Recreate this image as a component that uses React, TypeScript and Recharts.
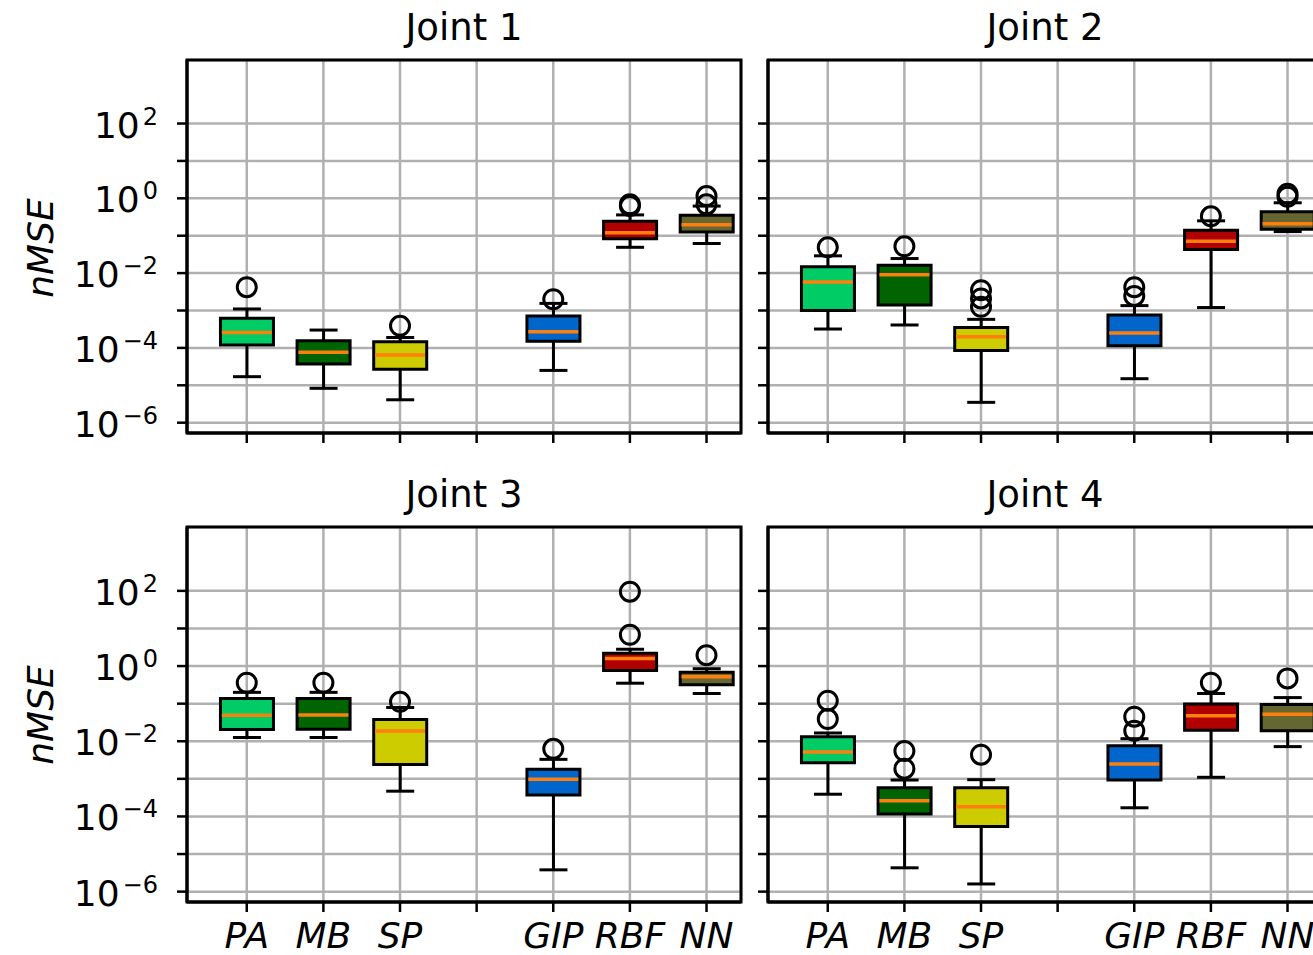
import { Bar, CartesianGrid, Cell, ComposedChart, ReferenceArea, Scatter, XAxis, YAxis } from "recharts";

const methods = ["PA", "MB", "SP", "", "GIP", "RBF", "NN"];
const positions = [1, 2, 3, 5, 6, 7];
const boxColors = ["#00cc66", "#006400", "#cccc00", "#0066cc", "#b00000", "#666633"];
const xTicks = [1, 2, 3, 4, 5, 6, 7];
const yTicks = [1e-6, 1e-5, 1e-4, 1e-3, 1e-2, 1e-1, 1, 10, 100];

// per method: [lower whisker, q1, median, q3, upper whisker]
const joint1Stats = [
  [1.7e-5, 1.2e-4, 2.6e-4, 6.2e-4, 1.1e-3],
  [8.3e-6, 3.7e-5, 7.6e-5, 1.55e-4, 3.0e-4],
  [4.1e-6, 2.7e-5, 6.5e-5, 1.45e-4, 1.9e-4],
  [2.5e-5, 1.5e-4, 2.7e-4, 7.1e-4, 1.55e-3],
  [0.049, 0.083, 0.12, 0.245, 0.36],
  [0.062, 0.126, 0.195, 0.35, 0.62],
];
const joint1Fliers = [[4.2e-3], [], [3.9e-4], [2.0e-3], [0.69, 0.62], [1.15, 0.69]];

const joint2Stats = [
  [3.2e-4, 1.0e-3, 5.8e-3, 0.0148, 0.029],
  [4.1e-4, 1.4e-3, 9.1e-3, 0.0162, 0.0245],
  [3.5e-6, 8.5e-5, 2.0e-4, 3.5e-4, 5.8e-4],
  [1.5e-5, 1.15e-4, 2.5e-4, 7.6e-4, 1.35e-3],
  [1.2e-3, 0.043, 0.071, 0.141, 0.25],
  [0.129, 0.148, 0.21, 0.44, 0.76],
];
const joint2Fliers = [[0.049], [0.052], [3.5e-3, 2.1e-3, 1.26e-3], [4.2e-3, 2.45e-3], [0.33], [1.32, 1.1]];

const joint3Stats = [
  [0.0126, 0.0204, 0.049, 0.138, 0.2],
  [0.0126, 0.021, 0.05, 0.138, 0.2],
  [4.7e-4, 2.4e-3, 0.0186, 0.038, 0.079],
  [3.8e-6, 3.7e-4, 9.8e-4, 1.8e-3, 3.3e-3],
  [0.35, 0.76, 1.58, 2.2, 2.8],
  [0.186, 0.32, 0.52, 0.68, 0.85],
];
const joint3Fliers = [[0.36], [0.36], [0.112], [6.3e-3], [6.8, 95], [1.95]];

const joint4Stats = [
  [3.9e-4, 2.7e-3, 5.2e-3, 0.0132, 0.0166],
  [4.3e-6, 1.17e-4, 2.6e-4, 5.8e-4, 9.3e-4],
  [1.6e-6, 5.4e-5, 1.8e-4, 5.8e-4, 9.5e-4],
  [1.7e-4, 9.3e-4, 2.5e-3, 7.6e-3, 0.0117],
  [1.1e-3, 0.0195, 0.048, 0.098, 0.186],
  [7.2e-3, 0.019, 0.052, 0.095, 0.145],
];
const joint4Fliers = [[0.12, 0.039], [5.5e-3, 1.86e-3], [4.4e-3], [0.045, 0.019], [0.36], [0.47]];

const FONT = "DejaVu Sans";
const Y_DOMAIN = [5.3e-7, 5e3];
const X_DOMAIN = [0.22, 7.45];
const PLOT_W = 554;
const BOX_W = 53;
const LW = 3;

function YTick(props: any) {
  const { x, y, payload } = props;
  const e = Math.round(Math.log10(payload.value));
  if (e % 2 !== 0) return <g />;
  const exp = e < 0 ? "\u2212" + Math.abs(e) : String(e);
  return (
    <text x={x} y={y} textAnchor="end" fontFamily={FONT} fontSize={36} fill="#000">
      <tspan dy={14}>10</tspan>
      <tspan dy={-13} dx={3} fontSize={24}>{exp}</tspan>
    </text>
  );
}

function XTick(props: any) {
  const { x, y, payload } = props;
  return (
    <text x={x} y={y} dy={34} textAnchor="middle" fontFamily={FONT} fontStyle="italic" fontSize={36} fill="#000">
      {methods[payload.value - 1]}
    </text>
  );
}

function WhiskerShape(props: any) {
  const { x, y, width, height } = props;
  const cx = x + width / 2;
  return (
    <g>
      <line x1={cx} x2={cx} y1={y} y2={y + height} stroke="#000" strokeWidth={LW} />
      <line x1={cx - 14} x2={cx + 14} y1={y} y2={y} stroke="#000" strokeWidth={LW} />
      <line x1={cx - 14} x2={cx + 14} y1={y + height} y2={y + height} stroke="#000" strokeWidth={LW} />
    </g>
  );
}

function MedianShape(props: any) {
  const { cx, cy } = props;
  return <line x1={cx - BOX_W / 2 + 1.5} x2={cx + BOX_W / 2 - 1.5} y1={cy} y2={cy} stroke="#ff7f0e" strokeWidth={3.5} />;
}

function FlierShape(props: any) {
  const { cx, cy } = props;
  return <circle cx={cx} cy={cy} r={9.5} fill="none" stroke="#000" strokeWidth={LW} />;
}

function Panel({ stats, fliers, left, plotTop, plotH, yLabels, xLabels }: any) {
  const rows = positions.map((pos, i) => ({
    pos,
    whisk: [stats[i][0], stats[i][4]],
    box: [stats[i][1], stats[i][3]],
    med: stats[i][2],
    color: boxColors[i],
  }));
  const outliers = positions.flatMap((pos, i) => fliers[i].map((v: number) => ({ pos, v })));
  const yw = yLabels ? 187 : 60;
  const width = yw + PLOT_W + 6;
  const height = 60 + plotH + 60;

  return (
    <div style={{ position: "absolute", left: left - yw, top: plotTop - 60 }}>
      <ComposedChart width={width} height={height} data={rows} margin={{ top: 60, right: 6, bottom: 0, left: 0 }}>
        <CartesianGrid stroke="#b0b0b0" strokeWidth={2.5} />
        <XAxis
          type="number"
          dataKey="pos"
          domain={X_DOMAIN}
          ticks={xTicks}
          interval={0}
          allowDataOverflow
          height={60}
          tickSize={10}
          tickMargin={2}
          tick={xLabels ? <XTick /> : <g />}
          tickLine={{ stroke: "#000", strokeWidth: 2.5 }}
          axisLine={{ stroke: "#000", strokeWidth: LW }}
        />
        <XAxis xAxisId="w" type="number" dataKey="pos" domain={X_DOMAIN} allowDataOverflow hide />
        <XAxis xAxisId="b" type="number" dataKey="pos" domain={X_DOMAIN} allowDataOverflow hide />
        <YAxis
          scale="log"
          domain={Y_DOMAIN}
          ticks={yTicks}
          interval={0}
          allowDataOverflow
          width={yw}
          tickSize={10}
          tickMargin={19}
          tick={yLabels ? <YTick /> : <g />}
          tickLine={{ stroke: "#000", strokeWidth: 2.5 }}
          axisLine={{ stroke: "#000", strokeWidth: LW }}
        />
        <Bar xAxisId="w" dataKey="whisk" barSize={BOX_W} isAnimationActive={false} shape={WhiskerShape} />
        <Bar xAxisId="b" dataKey="box" barSize={BOX_W} isAnimationActive={false} stroke="#000" strokeWidth={LW}>
          {rows.map((r, i) => (
            <Cell key={i} fill={r.color} />
          ))}
        </Bar>
        <Scatter data={rows} dataKey="med" isAnimationActive={false} shape={MedianShape} />
        <Scatter data={outliers} dataKey="v" isAnimationActive={false} shape={FlierShape} />
        <ReferenceArea
          x1={X_DOMAIN[0]}
          x2={X_DOMAIN[1]}
          y1={Y_DOMAIN[0]}
          y2={Y_DOMAIN[1]}
          ifOverflow="visible"
          fill="none"
          fillOpacity={0}
          stroke="#000"
          strokeWidth={LW}
        />
      </ComposedChart>
    </div>
  );
}

export default function App() {
  const textStyle = { fontFamily: FONT, fill: "#000" };
  return (
    <div style={{ position: "absolute", left: 0, top: 0, width: 1313, height: 955, overflow: "hidden", background: "#fff" }}>
      <Panel stats={joint1Stats} fliers={joint1Fliers} left={187} plotTop={60} plotH={373} yLabels xLabels={false} />
      <Panel stats={joint2Stats} fliers={joint2Fliers} left={768} plotTop={60} plotH={373} yLabels={false} xLabels={false} />
      <Panel stats={joint3Stats} fliers={joint3Fliers} left={187} plotTop={527} plotH={375} yLabels xLabels />
      <Panel stats={joint4Stats} fliers={joint4Fliers} left={768} plotTop={527} plotH={375} yLabels={false} xLabels />
      <svg width={1313} height={955} style={{ position: "absolute", left: 0, top: 0, pointerEvents: "none" }}>
        <text x={464} y={40} textAnchor="middle" fontSize={37} {...textStyle}>Joint 1</text>
        <text x={1045} y={40} textAnchor="middle" fontSize={37} {...textStyle}>Joint 2</text>
        <text x={464} y={507} textAnchor="middle" fontSize={37} {...textStyle}>Joint 3</text>
        <text x={1045} y={507} textAnchor="middle" fontSize={37} {...textStyle}>Joint 4</text>
        <text transform="translate(53, 248) rotate(-90)" textAnchor="middle" fontSize={36} fontStyle="italic" {...textStyle}>nMSE</text>
        <text transform="translate(53, 715) rotate(-90)" textAnchor="middle" fontSize={36} fontStyle="italic" {...textStyle}>nMSE</text>
      </svg>
    </div>
  );
}
